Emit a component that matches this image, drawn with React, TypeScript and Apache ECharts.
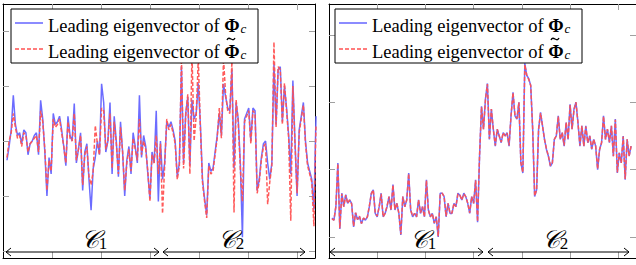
import React, { useEffect, useRef } from "react";
import * as echarts from "echarts";

// Left panel: leading eigenvector values (sample order), blue = Φc, red = Φ̃c
const leftBlue = [
  1.65, 1.9, 2.2, 2.83, 2.3, 2.1, 2.15, 1.95, 2.2, 2.15,
  1.75, 1.95, 2.0, 2.1, 2.15, 1.75, 2.74, 2.4, 1.8, 1.0,
  1.7, 1.4, 2.5, 2.3, 2.35, 2.45, 2.2, 1.9, 1.55, 2.45,
  2.1, 2.0, 2.68, 1.6, 1.85, 2.15, 1.1, 1.8, 1.95, 1.3,
  0.74, 1.5, 1.7, 2.0, 1.75, 3.04, 2.7, 1.8, 2.0, 2.7,
  1.4, 2.45, 2.0, 1.35, 2.35, 1.8, 1.0, 1.65, 1.9, 1.4,
  2.15, 1.9, 1.6, 2.83, 1.7, 2.1, 1.9, 1.4, 0.95, 1.8,
  1.6, 2.55,
  0.9, 2.0, 1.3, 1.6, 2.35, 2.25, 2.35, 2.2, 2.0, 1.35,
  1.6, 3.35, 1.6, 2.5, 2.8, 1.55, 2.75, 2.4, 2.5, 3.05,
  2.3, 1.3, 0.95, 0.65, 1.6, 1.45, 1.5, 1.8, 2.1, 2.5,
  2.1, 3.04, 2.8, 2.6, 2.55, 3.3, 1.5, 2.7, 2.4, 1.6,
  0.25, 2.4, 2.5, 2.6, 2.0, 2.6, 2.55, 1.1, 1.3, 1.7,
  1.95, 2.0, 1.6, 1.3, 1.6, 3.4, 2.3, 3.3, 3.35, 2.35,
  3.0, 2.6, 2.1, 1.4, 3.1, 2.0, 1.0, 2.2, 2.45, 2.7,
  2.0, 1.6, 1.45, 1.3, 0.75, 2.45,
];
const leftRed = [
  1.7, 2.0, 2.15, 2.5, 2.25, 2.05, 2.1, 1.9, 2.15, 2.1,
  1.8, 1.95, 2.0, 2.05, 2.1, 1.8, 2.55, 2.35, 1.85, 1.1,
  1.65, 1.45, 2.4, 2.25, 2.3, 2.4, 2.15, 1.9, 1.6, 2.35,
  2.05, 2.0, 2.5, 1.65, 1.85, 2.1, 1.2, 1.75, 1.9, 1.35,
  1.2, 1.45, 2.28, 1.95, 1.75, 2.6, 2.55, 1.85, 2.0, 2.5,
  1.5, 2.35, 1.95, 1.4, 2.25, 1.8, 1.1, 1.6, 1.85, 1.45,
  2.05, 1.85, 1.65, 2.4, 1.75, 2.0, 1.85, 1.45, 0.9, 1.75,
  1.6, 2.1,
  1.4, 1.95, 0.68, 1.55, 2.4, 2.2, 2.3, 2.15, 1.95, 1.3,
  1.55, 3.5, 1.5, 2.45, 2.85, 1.4, 3.6, 2.0, 2.45, 3.5,
  2.25, 1.25, 0.9, 0.6, 1.55, 1.4, 1.45, 1.75, 2.05, 2.6,
  2.05, 3.5, 2.85, 2.55, 2.5, 3.45, 0.7, 2.75, 2.35, 1.5,
  0.9, 2.35, 2.45, 2.55, 1.95, 2.55, 2.5, 1.05, 1.25, 1.65,
  1.9, 1.95, 0.85, 1.25, 1.55, 3.8, 2.25, 3.35, 3.3, 2.3,
  3.05, 2.55, 2.05, 0.55, 3.0, 1.95, 1.05, 2.15, 2.4, 2.65,
  1.95, 1.55, 1.4, 1.25, 0.45, 2.3,
];

// Right panel
const rightBlue = [
  0.28, 0.25, 0.45, 1.1, 0.12, 0.65, 0.45, 0.63, 0.5, 0.55,
  0.5, 0.15, 0.36, 0.26, 0.3, 0.2, 0.28, 0.25, 0.3, 0.45,
  0.65, 0.7, 0.35, 0.3, 0.45, 0.65, 0.3, 0.35, 0.45, 0.6,
  0.4, 0.78, 0.4, 0.5, 0.35, 0.03, 0.6, 0.45, 0.55, 0.95,
  0.4, 0.3, 0.35, 0.3, 0.55, 0.35, 0.45, 0.3, 0.85, 0.4,
  0.3, 0.35, 0.2, 0.3, 0.0, 0.65, 0.65, 0.6, 0.3, 0.5,
  0.35, 0.35, 0.5, 0.45, 0.65, 0.62, 0.55, 0.65, 0.6, 0.5,
  0.35, 0.6, 0.5, 0.85, 0.22,
  1.2, 1.94, 1.6, 2.05, 2.28, 1.45, 1.9, 1.6, 1.35, 1.6,
  1.5, 1.4, 1.55, 1.5, 1.55, 1.35, 1.8, 2.15, 1.8, 1.75,
  2.0, 1.1, 0.95, 2.58, 2.4, 2.35, 2.25, 1.6, 0.6, 0.7,
  1.6, 1.85, 1.65, 1.45, 1.3, 1.2, 1.05, 1.1, 1.45, 1.5,
  1.8, 1.45, 1.55, 1.35, 1.7, 1.45, 1.97, 1.6, 1.9, 2.0,
  1.7, 1.35, 1.65, 1.35, 1.65, 1.4, 1.5, 1.3, 1.45, 1.35,
  1.0, 1.3, 1.4, 1.8, 1.45, 1.6, 1.4, 1.65, 1.2, 1.75,
  0.95, 1.25, 1.1, 1.5, 0.85, 1.45, 1.2, 1.35,
];
const rightRed = [
  0.27, 0.25, 0.46, 1.09, 0.13, 0.64, 0.45, 0.62, 0.5, 0.55,
  0.49, 0.16, 0.36, 0.26, 0.31, 0.2, 0.28, 0.26, 0.3, 0.46,
  0.64, 0.7, 0.35, 0.31, 0.45, 0.64, 0.3, 0.35, 0.46, 0.6,
  0.4, 0.77, 0.41, 0.5, 0.35, 0.04, 0.6, 0.45, 0.55, 0.94,
  0.4, 0.31, 0.35, 0.3, 0.55, 0.36, 0.45, 0.3, 0.84, 0.4,
  0.3, 0.35, 0.21, 0.3, 0.01, 0.64, 0.65, 0.6, 0.31, 0.5,
  0.35, 0.36, 0.5, 0.45, 0.64, 0.62, 0.55, 0.64, 0.6, 0.5,
  0.36, 0.6, 0.5, 0.84, 0.23,
  1.21, 1.93, 1.6, 2.04, 2.27, 1.46, 1.9, 1.6, 1.36, 1.6,
  1.5, 1.41, 1.55, 1.5, 1.54, 1.36, 1.8, 2.14, 1.8, 1.76,
  2.0, 1.1, 0.96, 2.56, 2.4, 2.34, 2.25, 1.6, 0.61, 0.7,
  1.6, 1.84, 1.65, 1.45, 1.31, 1.2, 1.06, 1.1, 1.45, 1.5,
  1.79, 1.45, 1.55, 1.36, 1.7, 1.45, 1.96, 1.6, 1.89, 2.0,
  1.7, 1.36, 1.65, 1.35, 1.64, 1.4, 1.5, 1.31, 1.45, 1.35,
  1.01, 1.3, 1.4, 1.79, 1.45, 1.6, 1.41, 1.65, 1.2, 1.74,
  0.96, 1.25, 1.1, 1.49, 0.86, 1.45, 1.2, 1.35,
];

const leftYTicks = [0, 1, 2, 3, 4];
const rightYTicks = [0, 1, 2, 3];
const xTicks = [49, 98, 147, 196, 245, 294];
const legendNames = ["Leading eigenvector of Φc", "Leading eigenvector of Φ̃c"];
const clusterNames = ["1", "2"];

const BLUE = "#6464ff";
const RED = "#ff5252";
const TICK = "#a0a0a0";
const SERIF = "'Liberation Serif', 'Times New Roman', serif";

function pairs(vals: number[], x0: number, x1: number) {
  const step = (x1 - x0) / (vals.length - 1);
  return vals.map((v, i) => [x0 + i * step, v]);
}

function xAx(gridIndex: number, position: "top" | "bottom") {
  return {
    type: "value",
    gridIndex,
    position,
    min: 0,
    max: 312,
    axisLine: { show: true, onZero: false, lineStyle: { color: "#000", width: 1 } },
    axisTick: { show: true, inside: true, length: 6, customValues: xTicks, lineStyle: { color: TICK } },
    axisLabel: { show: false },
    splitLine: { show: false },
  };
}
function yAx(gridIndex: number, position: "left" | "right", min: number, max: number, ticks: number[]) {
  return {
    type: "value",
    gridIndex,
    position,
    min,
    max,
    axisLine: { show: true, onZero: false, lineStyle: { color: "#000", width: 1 } },
    axisTick: { show: true, inside: true, length: 6, customValues: ticks, lineStyle: { color: TICK } },
    axisLabel: { show: false },
    splitLine: { show: false },
  };
}

function arrow(x1: number, x2: number, y: number) {
  const h = 4, w = 5;
  const st = { stroke: "#000", lineWidth: 1, fill: null };
  return [
    { type: "line", shape: { x1, y1: y, x2, y2: y }, style: st, silent: true, z: 50 },
    { type: "polyline", shape: { points: [[x1 + w, y - h], [x1, y], [x1 + w, y + h]] }, style: st, silent: true, z: 50 },
    { type: "polyline", shape: { points: [[x2 - w, y - h], [x2, y], [x2 - w, y + h]] }, style: st, silent: true, z: 50 },
  ];
}
function clusterLabel(cx: number, idx: number) {
  return {
    type: "text",
    x: cx,
    y: 240,
    silent: true,
    z: 50,
    style: {
      text: `{c|𝒞}{s|${clusterNames[idx]}}`,
      align: "center",
      verticalAlign: "middle",
      rich: {
        c: { fontFamily: SERIF, fontStyle: "italic", fontSize: 25, fill: "#000", lineHeight: 24, verticalAlign: "bottom" },
        s: { fontFamily: SERIF, fontSize: 17, fill: "#000", lineHeight: 16, verticalAlign: "bottom", padding: [10, 0, 0, 0] },
      },
    },
  };
}

// legend drawn as a boxed group
function legendBox(left: number) {
  const top = 9;
  const rows = [23, 49];
  const els: any[] = [
    { type: "rect", shape: { x: left, y: top, width: 247, height: 54 }, style: { fill: "#fff", stroke: "#000", lineWidth: 1 }, z: 60, silent: true },
  ];
  rows.forEach((y, i) => {
    els.push({
      type: "line",
      shape: { x1: left + 4, y1: y, x2: left + 32, y2: y },
      style: { stroke: i === 0 ? BLUE : RED, lineWidth: 1.5, lineDash: i === 0 ? null : [4, 2] },
      z: 61,
      silent: true,
    });
    els.push({
      type: "text",
      x: left + 37,
      y: y + 1,
      z: 61,
      silent: true,
      style: {
        text: "{t|Leading eigenvector of }{p|Φ}{s|c}",
        verticalAlign: "middle",
        align: "left",
        rich: {
          t: { fontFamily: SERIF, fontSize: 18.5, fill: "#000", lineHeight: 22, verticalAlign: "bottom" },
          p: { fontFamily: SERIF, fontSize: 18.5, fontWeight: "bold", fill: "#000", lineHeight: 22, verticalAlign: "bottom" },
          s: { fontFamily: SERIF, fontSize: 13, fontStyle: "italic", fill: "#000", lineHeight: 13, verticalAlign: "bottom", padding: [0, 0, 0, 1] },
        },
      },
    });
    if (i === 1) {
      // tilde accent over the second Φ
      const cx = left + 220, cy = 39;
      els.push({
        type: "bezierCurve",
        shape: { x1: cx - 4, y1: cy + 1, x2: cx + 4, y2: cy - 1, cpx1: cx - 1.5, cpy1: cy - 4, cpx2: cx + 1.5, cpy2: cy + 4 },
        style: { stroke: "#000", lineWidth: 1.4, fill: null },
        z: 62,
        silent: true,
      });
    }
  });
  return els;
}

export default function App() {
  const ref = useRef<HTMLDivElement>(null);
  useEffect(() => {
    if (!ref.current) return;
    const chart = echarts.init(ref.current, null, { renderer: "svg" });
    const lineSeries = (name: string, data: number[][], idx: number, color: string, dashed: boolean) => ({
      type: "line",
      name,
      xAxisIndex: idx * 2,
      yAxisIndex: idx * 2,
      data,
      showSymbol: false,
      symbol: "none",
      clip: true,
      lineStyle: { color, width: 1.5, type: dashed ? [4, 2] : "solid", opacity: 0.95 },
      itemStyle: { color },
      z: dashed ? 3 : 2,
    });
    chart.setOption({
      animation: false,
      backgroundColor: "#fff",
      grid: [
        { left: 3, top: 4, width: 312, height: 254 },
        { left: 329, top: 4, width: 312, height: 254 },
      ],
      xAxis: [xAx(0, "bottom"), xAx(0, "top"), xAx(1, "bottom"), xAx(1, "top")],
      yAxis: [
        yAx(0, "left", -0.127, 4.49, leftYTicks),
        yAx(0, "right", -0.127, 4.49, leftYTicks),
        yAx(1, "left", -0.312, 3.46, rightYTicks),
        yAx(1, "right", -0.312, 3.46, rightYTicks),
      ],
      series: [
        lineSeries(legendNames[0], pairs(leftBlue, 4, 313), 0, BLUE, false),
        lineSeries(legendNames[1], pairs(leftRed, 4, 313), 0, RED, true),
        lineSeries(legendNames[0], pairs(rightBlue, 3, 307), 1, BLUE, false),
        lineSeries(legendNames[1], pairs(rightRed, 3, 307), 1, RED, true),
      ],
      graphic: [
        ...legendBox(11),
        ...legendBox(335),
        ...arrow(6, 159, 252),
        ...arrow(163, 305, 252),
        ...arrow(330, 483, 252),
        ...arrow(488, 629, 252),
        clusterLabel(94, 0),
        clusterLabel(231, 1),
        clusterLabel(423, 0),
        clusterLabel(555, 1),
      ],
    });
    return () => chart.dispose();
  }, []);
  return <div ref={ref} style={{ position: "fixed", left: 0, top: 0, width: 636, height: 265 }} />;
}
